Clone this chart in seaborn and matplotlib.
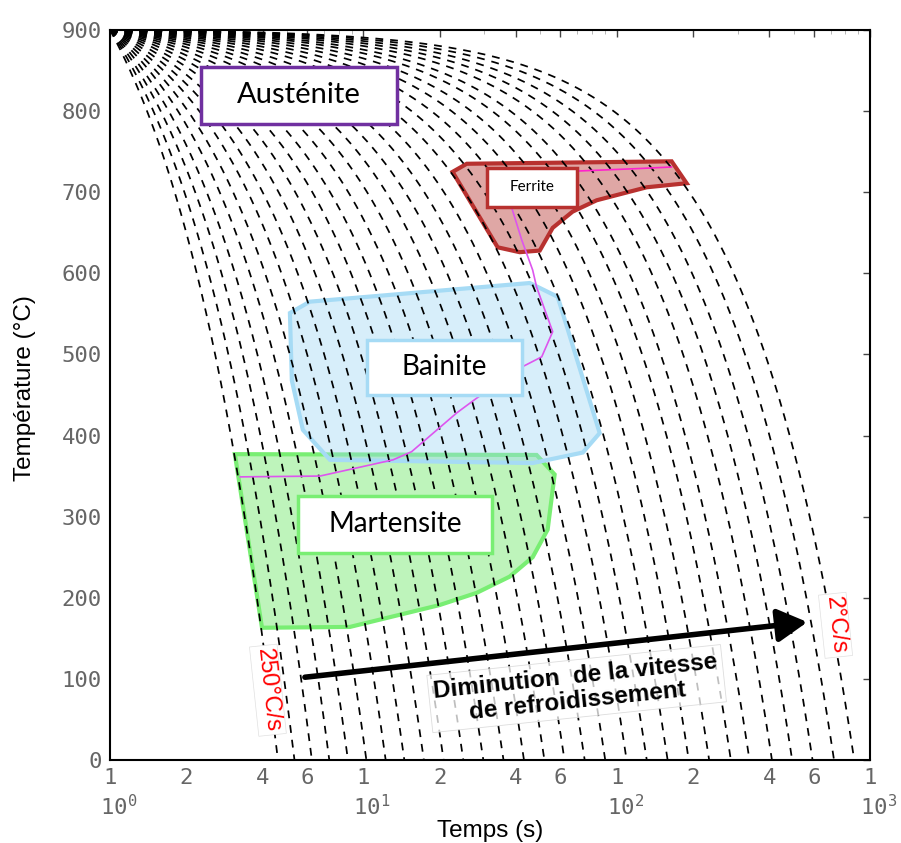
import numpy as np
import pandas as pd
import matplotlib
matplotlib.use("Agg")
import matplotlib.pyplot as plt
from matplotlib.patches import Rectangle
import matplotlib.transforms as mtransforms
import seaborn as sns

# --- data ---
# cooling rates of the dashed curves (degC/s), all starting at 900 degC at t = 1 s
cooling_rates = [250, 207, 171, 142, 117, 97, 80, 66.6, 55.1, 45.6, 37.8, 31.3, 25.9,
                 21.4, 17.7, 14.7, 12.2, 10.1, 8.3, 6.9, 5.7, 4.7, 3.9, 3.2, 2.7,
                 2.2, 1.83, 1.52, 1.25, 1.04]
T_START = 900

# transformation domains (time s, temperature degC)
ferrite_t = [22.5, 25.6, 164.8, 188.8, 131.3, 83.4, 67.0, 55.9, 49.7, 41.4, 33.9]
ferrite_T = [725, 735, 738, 711, 706, 690, 676, 656, 628, 626, 632]

bainite_t = [5.13, 6.15, 45.4, 58.5, 85.7, 73.5, 46.6, 7.38, 5.77, 5.22]
bainite_T = [551, 565, 588, 571, 403, 379, 366, 370, 407, 468]

martensite_t = [3.11, 48.3, 56.9, 53.4, 46.6, 37.8, 28.0, 20.0, 8.85, 3.98]
martensite_T = [377, 376, 352, 284, 250, 226, 206, 191, 164, 163]

# magenta transformation lines
line_a_t = [69.5, 120, 164.8]
line_a_T = [726, 729, 731]
line_b_t = [38.5, 42.2, 46.6, 48.3, 55.9, 50.6, 42.6, 28.0, 23.4, 15.5, 13.1, 6.74, 3.26]
line_b_T = [681, 641, 604, 583, 528, 497, 485, 446, 428, 380, 370, 350, 349]

x_ticks = [1, 2, 4, 6, 10, 20, 40, 60, 100, 200, 400, 600, 1000]
x_tick_labels = ["1", "2", "4", "6", "1", "2", "4", "6", "1", "2", "4", "6", "1"]
x_minor = [3, 5, 7, 8, 9, 30, 50, 70, 80, 90, 300, 500, 700, 800, 900]
decades = [0, 1, 2, 3]
y_ticks = list(range(0, 1000, 100))

# --- style ---
sns.set_theme(style="white")
plt.rcParams["font.family"] = ["Liberation Sans", "DejaVu Sans"]
TICK_GREY = "#666666"

fig = plt.figure(figsize=(9.01, 8.43), dpi=100)
ax = fig.add_axes([0.1221, 0.0985, 0.8435, 0.8660])

# cooling curves
rows = []
for r in cooling_rates:
    t_end = 1 + T_START / r
    t = np.geomspace(1, t_end, 300)
    T = T_START - r * (t - 1)
    rows.append(pd.DataFrame({"t": t, "T": T, "rate": r}))
curves = pd.concat(rows, ignore_index=True)

# domains
ax.fill(martensite_t, martensite_T, fc="#6fe86a", alpha=0.45, ec="none", zorder=2)
ax.fill(martensite_t, martensite_T, fc="none", ec="#79ee73", lw=3, zorder=2)
ax.fill(bainite_t, bainite_T, fc="#9dd5f3", alpha=0.4, ec="none", zorder=2)
ax.fill(bainite_t, bainite_T, fc="none", ec="#a6dbf5", lw=3, zorder=2)
ax.fill(ferrite_t, ferrite_T, fc="#c0504d", alpha=0.5, ec="none", zorder=2)
ax.fill(ferrite_t, ferrite_T, fc="none", ec="#b8312f", lw=3, zorder=2)

sns.lineplot(data=curves, x="t", y="T", units="rate", estimator=None, sort=False,
             color="black", lw=1.25, linestyle=(0, (4.5, 4)), ax=ax, zorder=3)

ax.plot(line_a_t, line_a_T, color="#ff22cc", lw=1.2, zorder=4)
ax.plot(line_b_t, line_b_T, color="#dd55ee", lw=1.2, zorder=4)

# label boxes (axes fraction)
boxes = [
    ("Austénite", 0.1197, 0.8712, 0.3776, 0.9493, "#7030a0", 21),
    ("Ferrite", 0.496, 0.7575, 0.6145, 0.811, "#b8312f", 11),
    ("Bainite", 0.3382, 0.50, 0.5421, 0.5753, "#a6dbf5", 20),
    ("Martensite", 0.2474, 0.2836, 0.5026, 0.3616, "#79ee73", 20),
]
for name, x0, y0, x1, y1, ec, fs in boxes:
    ax.add_patch(Rectangle((x0, y0), x1 - x0, y1 - y0, transform=ax.transAxes,
                           fc="white", ec=ec, lw=2.5, zorder=5))
    ax.text((x0 + x1) / 2, (y0 + y1) / 2, name, transform=ax.transAxes,
            ha="center", va="center", fontsize=fs, family=["Lato", "DejaVu Sans"],
            color="black", zorder=6)

# arrow and annotation
ax.annotate("", xy=(566, 170), xytext=(5.88, 102),
            arrowprops=dict(arrowstyle="-|>,head_length=0.45,head_width=0.25",
                            lw=4, color="black", mutation_scale=40,
                            shrinkA=0, shrinkB=0), zorder=7)
ax.text(69.5, 88, "Diminution  de la vitesse\nde refroidissement", rotation=6,
        ha="center", va="center", multialignment="center", fontsize=17.5,
        fontweight="bold", color="black", zorder=7, rotation_mode="anchor",
        linespacing=1.1,
        bbox=dict(boxstyle="square,pad=0.2", fc=(1, 1, 1, 0.75), ec="#dddddd", lw=0.6))
ax.text(4.2, 86, "250°C/s", rotation=-84, color="red", fontsize=17,
        ha="center", va="center", rotation_mode="anchor", zorder=7,
        bbox=dict(boxstyle="square,pad=0.12", fc="white", ec="#e0e0e0", lw=0.5))
ax.text(731, 166, "2°C/s", rotation=-84, color="red", fontsize=17,
        ha="center", va="center", rotation_mode="anchor", zorder=7,
        bbox=dict(boxstyle="square,pad=0.12", fc="white", ec="#e0e0e0", lw=0.5))

# axes
ax.set_xscale("log")
ax.set_xlim(1, 1000)
ax.set_ylim(0, 900)
ax.set_xticks(x_ticks)
ax.set_xticklabels(x_tick_labels)
ax.set_xticks(x_minor, minor=True)
ax.set_xticklabels([], minor=True)
ax.set_yticks(y_ticks)
ax.set_yticklabels([str(v) for v in y_ticks])
for lab in ax.get_xticklabels() + ax.get_yticklabels():
    lab.set_family("DejaVu Sans Mono")
    lab.set_color(TICK_GREY)
    lab.set_fontsize(16)
ax.tick_params(which="major", direction="in", length=5, width=1, top=True, right=True,
               color="#444444", pad=6)
ax.tick_params(which="minor", direction="in", length=3, width=0.6, top=True, right=True,
               color="#aaaaaa")
shift = mtransforms.ScaledTranslation(-10 / 100, 0, fig.dpi_scale_trans)
for d in decades:
    ax.text(10 ** d, -0.064, r"$\mathregular{10^{%d}}$" % d,
            transform=ax.get_xaxis_transform() + shift, ha="left", va="center",
            fontsize=16, family="DejaVu Sans Mono", color=TICK_GREY)
for s in ax.spines.values():
    s.set_color("black")
    s.set_linewidth(1.5)

ax.set_xlabel("")
ax.set_ylabel("")
fig.text(0.5438, 1 - 831 / 843, "Temps (s)", fontsize=17.5, color="black",
         ha="center", va="center")
fig.text(25 / 901, 1 - 388 / 843, "Température (°C)", fontsize=17.5, color="black",
         ha="center", va="center", rotation=90)
ax.grid(False)

fig.savefig("out.png", dpi=100)
